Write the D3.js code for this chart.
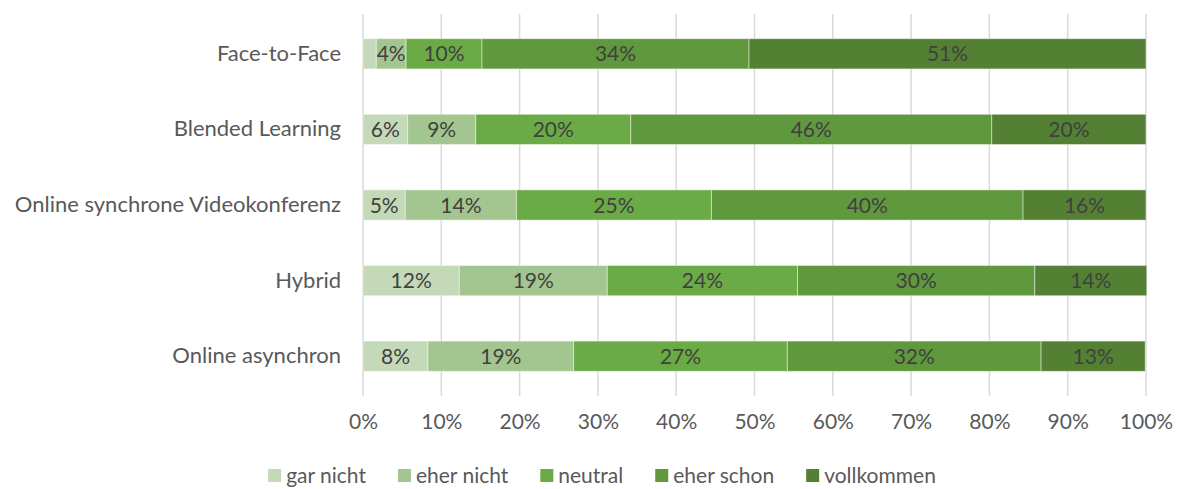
<!DOCTYPE html>
<html>
<head>
<meta charset="utf-8">
<script src="https://cdn.jsdelivr.net/npm/d3@7"></script>
<style>
  body { margin: 0; background: #fff; }
  text { font-family: Lato, "Open Sans", sans-serif; }
</style>
</head>
<body>
<script>
// categories, top to bottom
var categories = ["Face-to-Face", "Blended Learning", "Online synchrone Videokonferenz", "Hybrid", "Online asynchron"];
var seriesNames = ["gar nicht", "eher nicht", "neutral", "eher schon", "vollkommen"];
var colors = ["#c4d9b8", "#a3c58f", "#6aab46", "#5f983d", "#538033"];

// shares (%), one array per series
var garNicht   = [1.7, 5.7, 5.4, 12.3, 8.3];
var eherNicht  = [3.8, 8.7, 14.2, 18.9, 18.6];
var neutral    = [9.7, 19.8, 24.9, 24.3, 27.3];
var eherSchon  = [34.1, 46.1, 39.8, 30.3, 32.4];
var vollkommen = [50.7, 19.7, 15.7, 14.3, 13.3];

// labels as printed on the bars ("" = no label)
var labelGarNicht   = ["", "6%", "5%", "12%", "8%"];
var labelEherNicht  = ["4%", "9%", "14%", "19%", "19%"];
var labelNeutral    = ["10%", "20%", "25%", "24%", "27%"];
var labelEherSchon  = ["34%", "46%", "40%", "30%", "32%"];
var labelVollkommen = ["51%", "20%", "16%", "14%", "13%"];

var xTicks = [0, 10, 20, 30, 40, 50, 60, 70, 80, 90, 100];

var w = 1180, h = 489;
var plotLeft = 363, plotRight = 1146, plotTop = 16, plotBottom = 394;

var values = [garNicht, eherNicht, neutral, eherSchon, vollkommen];
var labels = [labelGarNicht, labelEherNicht, labelNeutral, labelEherSchon, labelVollkommen];

// build rows for d3.stack
var rows = categories.map(function(c, i) {
  var r = { cat: c };
  seriesNames.forEach(function(s, j) { r[s] = values[j][i]; });
  return r;
});
var stacked = d3.stack().keys(seriesNames)(rows);

var xScale = d3.scaleLinear().domain([0, 100]).range([plotLeft, plotRight]);
var yScale = d3.scaleBand().domain(categories).range([plotTop, plotBottom]).paddingInner(0.6).paddingOuter(0.3);

var svg = d3.select("body").append("svg")
  .attr("width", w)
  .attr("height", h);

// gridlines
svg.append("g")
  .selectAll("line")
  .data(xTicks)
  .enter()
  .append("line")
  .attr("x1", function(d) { return xScale(d); })
  .attr("x2", function(d) { return xScale(d); })
  .attr("y1", plotTop - 2)
  .attr("y2", plotBottom + 2)
  .attr("stroke", "#d9d9d9")
  .attr("stroke-width", 1.5);

// bars
var layer = svg.selectAll("g.layer")
  .data(stacked)
  .enter()
  .append("g")
  .attr("class", "layer")
  .attr("fill", function(d, i) { return colors[i]; });

layer.selectAll("rect")
  .data(function(d) { return d; })
  .enter()
  .append("rect")
  .attr("x", function(d) { return xScale(d[0]); })
  .attr("y", function(d) { return yScale(d.data.cat); })
  .attr("width", function(d) { return xScale(d[1]) - xScale(d[0]); })
  .attr("height", yScale.bandwidth())
  .attr("stroke", "#ffffff")
  .attr("stroke-opacity", 0.45)
  .attr("stroke-width", 1);

// data labels
layer.selectAll("text")
  .data(function(d, i) { return d.map(function(p, k) { return { p: p, label: labels[i][k] }; }); })
  .enter()
  .append("text")
  .attr("x", function(d) { return (xScale(d.p[0]) + xScale(d.p[1])) / 2; })
  .attr("y", function(d) { return yScale(d.p.data.cat) + yScale.bandwidth() / 2; })
  .attr("dy", "0.36em")
  .attr("text-anchor", "middle")
  .attr("font-size", "21px")
  .attr("fill", "#404040")
  .text(function(d) { return d.label; });

// y axis labels
var yAxis = d3.axisLeft(yScale).tickSize(0).tickPadding(22);
var gy = svg.append("g")
  .attr("transform", "translate(" + plotLeft + ",0)")
  .call(yAxis);
gy.select(".domain").remove();
gy.selectAll("text")
  .attr("font-size", "22px")
  .attr("font-family", "Lato, sans-serif")
  .attr("fill", "#595959");

// x axis labels
var xAxis = d3.axisBottom(xScale)
  .tickValues(xTicks)
  .tickSize(0)
  .tickPadding(20)
  .tickFormat(function(d) { return d + "%"; });
var gx = svg.append("g")
  .attr("transform", "translate(0," + plotBottom + ")")
  .call(xAxis);
gx.select(".domain").remove();
gx.selectAll("text")
  .attr("font-size", "21px")
  .attr("font-family", "Lato, sans-serif")
  .attr("fill", "#595959");

// legend: lay out items by text width, centred
var legend = svg.append("g");
var items = legend.selectAll("g")
  .data(seriesNames)
  .enter()
  .append("g");

items.append("rect")
  .attr("width", 13)
  .attr("height", 13)
  .attr("fill", function(d, i) { return colors[i]; });

items.append("text")
  .attr("x", 18)
  .attr("y", 6.5)
  .attr("dy", "0.36em")
  .attr("font-size", "21px")
  .attr("fill", "#595959")
  .text(function(d) { return d; });

var gap = 32;
var pos = 0;
items.each(function() {
  var g = d3.select(this);
  g.attr("transform", "translate(" + pos + ",0)");
  pos += 18 + g.select("text").node().getComputedTextLength() + gap;
});
var legendWidth = pos - gap;
legend.attr("transform", "translate(" + (602 - legendWidth / 2) + ",469)");
</script>
</body>
</html>
